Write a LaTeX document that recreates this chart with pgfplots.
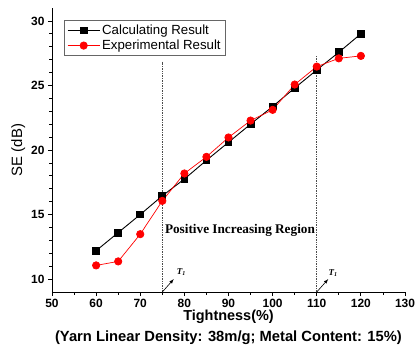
\documentclass[border=0pt]{standalone}
\usepackage{fontspec}
\setmainfont{Liberation Sans}
\newfontfamily\serifbold{Liberation Serif}
\usepackage{pgfplots}
\pgfplotsset{compat=1.18}
\begin{document}
\begin{tikzpicture}
\path[use as bounding box] (-52bp,-57bp) rectangle (366bp,292bp);
\begin{axis}[
  scale only axis,
  width=353bp, height=284bp,
  xmin=50, xmax=130, ymin=9, ymax=31,
  axis x line=bottom, axis y line=left,
  axis line style={-, line width=0.9pt},
  xtick={50,60,...,130}, ytick={10,15,...,30},
  minor x tick num=1, minor y tick num=4,
  tick align=outside,
  major tick length=4bp, minor tick length=2.5bp,
  tick style={black, line width=0.8pt},
  /pgf/number format/assume math mode=true,
  ticklabel style={font=\fontsize{12}{14}\selectfont\bfseries},
  xlabel={\fontsize{14.5}{16}\selectfont\bfseries Tightness(\%)},
  xlabel style={yshift=5bp},
  ylabel={\fontsize{15}{17}\selectfont SE (dB)},
  ylabel style={yshift=-1bp},
  legend style={at={(rel axis cs:0.034,0.957)}, anchor=north west,
    font=\fontsize{13.3}{16}\selectfont, draw=black!60, line width=0.5pt,
    inner xsep=3bp, inner ysep=2.5bp, row sep=0bp},
  legend image code/.code={\draw[mark repeat=2,mark phase=2] plot coordinates {(0bp,0bp)(16bp,0bp)(32bp,0bp)};},
  legend cell align=left,
  clip=false,
]
\addplot[black, line width=0.9pt, mark=square*, mark size=3.4bp, mark options={fill=black}] coordinates {
(60,12.2) (65,13.6) (70,15.0) (75,16.45) (80,17.75) (85,19.2) (90,20.6) (95,22.0) (100,23.37) (105,24.8) (110,26.2) (115,27.57) (120,29.0)};
\addlegendentry{Calculating Result}
\addplot[red, line width=0.7pt, mark=*, mark size=3.7bp, mark options={fill=red}] coordinates {
(60,11.06) (65,11.37) (70,13.48) (75,16.06) (80,18.18) (85,19.47) (90,20.97) (95,22.28) (100,23.11) (105,25.07) (110,26.46) (115,27.1) (120,27.29)};
\addlegendentry{Experimental Result}
\draw[black!70, densely dotted, line width=0.7pt] (axis cs:75,9) -- (axis cs:75,26.85);
\draw[black!70, densely dotted, line width=0.7pt] (axis cs:110,9) -- (axis cs:110,27.3);
\node[font=\fontsize{13.3}{15}\selectfont\serifbold\bfseries] at (axis cs:92.6,13.74) {Positive Increasing Region};
\draw[-latex, line width=0.6pt] (axis cs:75,9) -- (axis cs:77.6,10.0);
\draw[-latex, line width=0.6pt] (axis cs:110,9) -- (axis cs:112.6,10.0);
\node[font=\fontsize{9}{10}\selectfont\serifbold\bfseries\itshape] at (axis cs:79.3,10.55) {T\textsubscript{\fontsize{6}{7}\selectfont 1}};
\node[font=\fontsize{9}{10}\selectfont\serifbold\bfseries\itshape] at (axis cs:113.7,10.45) {T\textsubscript{\fontsize{6}{7}\selectfont 1}};
\node[font=\fontsize{14.8}{16}\selectfont\bfseries, yshift=-46bp] at (axis cs:90,9) {(Yarn Linear Density: 38m/g; Metal Content: 15\%)};
\end{axis}
\end{tikzpicture}
\end{document}
